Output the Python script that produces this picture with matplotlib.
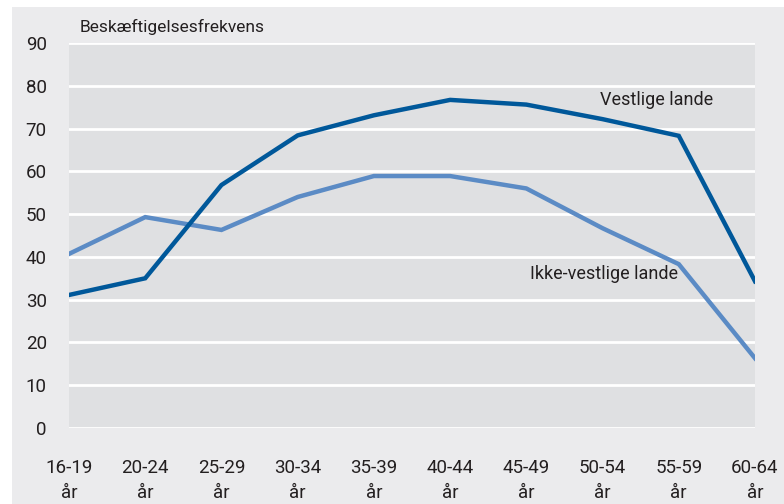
import matplotlib.pyplot as plt
from matplotlib.patches import Rectangle

age_groups = ["16-19\når", "20-24\når", "25-29\når", "30-34\når", "35-39\når",
              "40-44\når", "45-49\når", "50-54\når", "55-59\når", "60-64\når"]
vestlige = [31.1, 35.0, 56.8, 68.4, 73.1, 76.7, 75.6, 72.2, 68.3, 34.3]
ikke_vestlige = [40.7, 49.3, 46.3, 54.0, 58.9, 58.9, 56.0, 46.7, 38.3, 16.3]
yticks = [0, 10, 20, 30, 40, 50, 60, 70, 80, 90]

plt.rcParams["font.family"] = ["Roboto", "DejaVu Sans"]
text_col = "#231f20"

fig = plt.figure(figsize=(7.84, 5.04), dpi=100)
fig.patch.set_facecolor("white")
fig.patches.append(Rectangle((12 / 784, 0), 1, 1 - 7 / 504, transform=fig.transFigure,
                             facecolor="#ebebed", edgecolor="none", zorder=-10))

ax = fig.add_axes([69 / 784, 76 / 504, 686 / 784, 385 / 504])
ax.set_facecolor("#dfe0e2")
x = range(len(age_groups))
ax.plot(x, ikke_vestlige, color="#5b8bc5", lw=3.2, solid_joinstyle="miter", zorder=3)
ax.plot(x, vestlige, color="#00589a", lw=3.2, solid_joinstyle="miter", zorder=4)

ax.set_xlim(0, len(age_groups) - 1)
ax.set_ylim(0, 90)
ax.set_yticks(yticks)
ax.set_xticks(list(x))
ax.set_xticklabels(age_groups, linespacing=1.55)
ax.tick_params(length=0, labelsize=13.5, colors=text_col)
ax.tick_params(axis="x", pad=22)
ax.tick_params(axis="y", pad=16)
for s in ax.spines.values():
    s.set_visible(False)
ax.grid(axis="y", color="white", lw=2)
ax.set_axisbelow(True)

ax.text(6.96, 76.6, "Vestlige lande", fontsize=13, color=text_col, va="center", ha="left", zorder=5)
ax.text(7.99, 36.0, "Ikke-vestlige lande", fontsize=13, color=text_col, va="center", ha="right", zorder=5)
fig.text(80 / 784, 1 - 27 / 504, "Beskæftigelsesfrekvens", fontsize=12.5, color=text_col,
         va="center", ha="left")

fig.savefig("out.png", dpi=100, facecolor=fig.get_facecolor())
